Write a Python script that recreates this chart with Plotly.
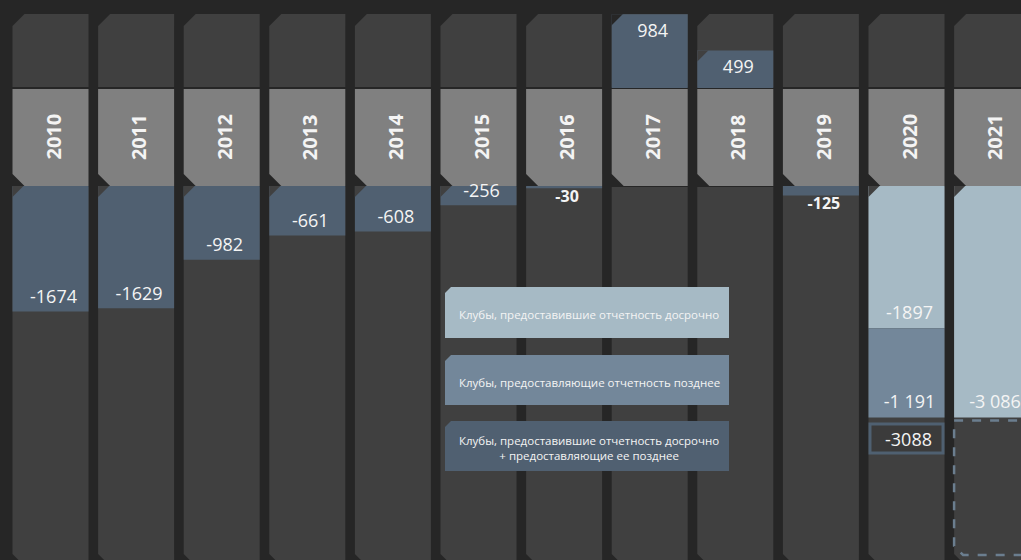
import plotly.graph_objects as go

# данные
years = ["2010", "2011", "2012", "2013", "2014", "2015", "2016", "2017", "2018", "2019", "2020", "2021"]
combined = [-1674, -1629, -982, -661, -608, -256, -30, 984, 499, -125, None, None]
early = [None] * 10 + [-1897, -3086]
late = [None] * 10 + [-1191, None]
early_text = ["-1897", "-3 086"]
late_text = ["-1 191"]
total_2020 = -3088
legend_labels = [
    "Клубы, предоставившие отчетность досрочно",
    "Клубы, предоставляющие отчетность позднее",
    "Клубы, предоставившие отчетность досрочно<br>+ предоставляющие ее позднее",
]

BG = "#262626"
PANEL = "#404040"
BAND = "#808080"
C_COMB = "#506071"
C_EARLY = "#a6bac5"
C_LATE = "#73879a"
TXT = "#f4f4f4"
FONT = "Open Sans"

W, H = 1021, 560
PITCH = 85.6   # px между колонками
X0 = 50.5      # центр первой колонки, px
SCALE = 0.075  # px на единицу
MID = 137      # центр полосы с годами, px


def dx(px):
    return px / PITCH


def dy(px):
    return px / SCALE


def yv(py):
    return (MID - py) / SCALE


B = yv(88)
HALF = dx(38)
CUT = dx(12)
CUTY = dy(12)

fig = go.Figure()
shapes = []
annotations = []

# колонки: верхняя панель, полоса с годом, нижняя панель
for i, yr in enumerate(years):
    xl, xr = i - HALF, i + HALF
    t, b = yv(14), yv(87)
    shapes.append(dict(type="path", xref="x", yref="y", layer="below", fillcolor=PANEL, line_width=0,
                       path=f"M {xl},{t - CUTY} L {xl + CUT},{t} L {xr},{t} L {xr},{b} L {xl},{b} Z"))
    t, b = yv(89), yv(186)
    shapes.append(dict(type="path", xref="x", yref="y", layer="below", fillcolor=BAND, line_width=0,
                       path=f"M {xl},{t} L {xr},{t} L {xr},{b} L {xl + CUT},{b} L {xl},{b + CUTY} Z"))
    t, b = yv(187), yv(566)
    shapes.append(dict(type="path", xref="x", yref="y", layer="below", fillcolor=PANEL, line_width=0,
                       path=f"M {xl},{t} L {xr},{t} L {xr},{b} L {xl + CUT},{b} L {xl},{b + CUTY} Z"))
    annotations.append(dict(x=i + dx(2), y=0, xref="x", yref="y", text=f"<b>{yr}</b>", textangle=-90,
                            showarrow=False, font=dict(family=FONT, size=20, color=TXT)))

# столбцы
idx = [i for i, v in enumerate(combined) if v is not None]
vals = [combined[i] for i in idx]
bases = [B if v > 0 else -B for v in vals]
fig.add_trace(go.Bar(x=idx, y=vals, base=bases, width=2 * HALF, marker=dict(color=C_COMB, line_width=0),
                     hoverinfo="skip"))

e_idx = [i for i, v in enumerate(early) if v is not None]
e_vals = [early[i] for i in e_idx]
fig.add_trace(go.Bar(x=e_idx, y=e_vals, base=[-B] * len(e_idx), width=2 * HALF,
                     marker=dict(color=C_EARLY, line_width=0), hoverinfo="skip"))

l_idx = [i for i, v in enumerate(late) if v is not None]
l_vals = [late[i] for i in l_idx]
l_base = [-B + early[i] for i in l_idx]
fig.add_trace(go.Bar(x=l_idx, y=l_vals, base=l_base, width=2 * HALF,
                     marker=dict(color=C_LATE, line_width=0), hoverinfo="skip"))

# срезанные углы столбцов
c2, c2y = dx(11), dy(11)
for i, v in zip(idx + e_idx, vals + e_vals):
    if abs(v) < 200:
        continue
    xl = i - HALF
    if v < 0:
        y0 = -B
        shapes.append(dict(type="path", xref="x", yref="y", layer="above", fillcolor=PANEL, line_width=0,
                           path=f"M {xl},{y0} L {xl + c2},{y0} L {xl},{y0 - c2y} Z"))
    else:
        y0 = B + v
        col = BG if y0 > yv(26) else PANEL
        shapes.append(dict(type="path", xref="x", yref="y", layer="above", fillcolor=col, line_width=0,
                           path=f"M {xl},{y0} L {xl + c2},{y0} L {xl},{y0 - c2y} Z"))

# подписи значений
lx, ly, lt = [], [], []
bx, by, bt = [], [], []
for i, v, b0 in zip(idx, vals, bases):
    end = b0 + v
    if abs(v) < 200:
        bx.append(i + dx(3)); by.append(end - dy(10)); bt.append(f"<b>{v}</b>")
    elif v < 0:
        lx.append(i + dx(3)); ly.append(end + dy(13)); lt.append(str(v))
    else:
        lx.append(i + dx(3)); ly.append(end - dy(18)); lt.append(str(v))
for i, v, t in zip(e_idx, e_vals, early_text):
    lx.append(i + dx(3)); ly.append(-B + v + dy(14)); lt.append(t)
for i, v, b0, t in zip(l_idx, l_vals, l_base, late_text):
    lx.append(i + dx(3)); ly.append(b0 + v + dy(14)); lt.append(t)

fig.add_trace(go.Scatter(x=lx, y=ly, text=lt, mode="text", textposition="middle center",
                         textfont=dict(family=FONT, size=18, color=TXT), hoverinfo="skip", cliponaxis=False))
fig.add_trace(go.Scatter(x=bx, y=by, text=bt, mode="text", textposition="middle center",
                         textfont=dict(family=FONT, size=16, color=TXT), hoverinfo="skip"))

# итог 2020
end20 = -B + total_2020
shapes.append(dict(type="rect", xref="x", yref="y", layer="above", x0=10 - HALF + dx(1.5), x1=10 + HALF - dx(1.5),
                   y0=end20 - dy(6.5), y1=end20 - dy(35.5), fillcolor="#3b3b3b",
                   line=dict(color="#4f6071", width=3)))
annotations.append(dict(x=10 + dx(2), y=end20 - dy(21), xref="x", yref="y", text=str(total_2020),
                        showarrow=False, font=dict(family=FONT, size=18, color=TXT)))

# пунктирная рамка 2021
end21 = -B + early[11]
xl, xr = 11 - HALF, 11 + HALF + dx(8)
t, b = end21 - dy(3), yv(555)
shapes.append(dict(type="path", xref="x", yref="y", layer="above", line=dict(color="#6b7e8f", width=2.5, dash="dash"),
                   path=f"M {xl},{t} L {xr},{t} L {xr},{b} L {xl + dx(9)},{b} L {xl},{b + dy(9)} Z"))

# легенда
boxes = [(287, 338, C_EARLY), (355, 405, C_LATE), (421, 471, C_COMB)]
lx0, lx1 = 445 / W, 729 / W
cx, cy = 6 / W, 6 / H
for (p0, p1, col), lab in zip(boxes, legend_labels):
    y1, y0 = 1 - p0 / H, 1 - p1 / H
    shapes.append(dict(type="path", xref="paper", yref="paper", layer="above", fillcolor=col, line_width=0,
                       path=f"M {lx0},{y1 - cy} L {lx0 + cx},{y1} L {lx1},{y1} L {lx1},{y0} L {lx0},{y0} Z"))
    annotations.append(dict(x=(lx0 + lx1) / 2 + 2 / W, y=(y0 + y1) / 2 - 2 / H, xref="paper", yref="paper",
                            xanchor="center", yanchor="middle", text=lab,
                            showarrow=False, font=dict(family=FONT, size=11.5, color=TXT)))

fig.update_layout(
    width=W, height=H,
    margin=dict(l=0, r=0, t=0, b=0),
    paper_bgcolor=BG, plot_bgcolor=BG,
    barmode="overlay", showlegend=False,
    shapes=shapes, annotations=annotations,
    xaxis=dict(range=[-X0 / PITCH, (W - X0) / PITCH], visible=False, fixedrange=True),
    yaxis=dict(range=[yv(H), yv(0)], visible=False, fixedrange=True),
)

fig.write_html("out.html", config=dict(displayModeBar=False),
               post_script="document.body.style.margin='0';document.body.style.overflow='hidden';")
